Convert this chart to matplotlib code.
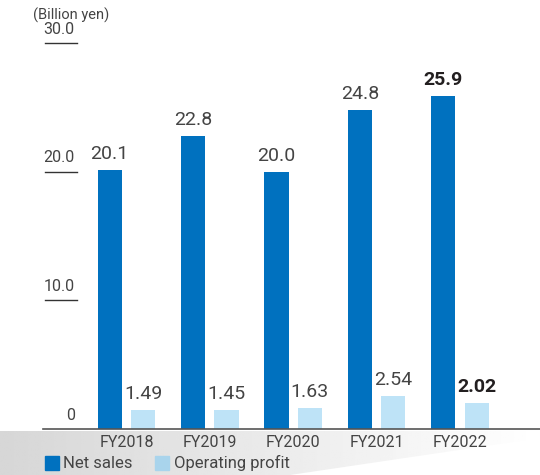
import numpy as np
import matplotlib
matplotlib.use('Agg')
import matplotlib.pyplot as plt
from matplotlib.patches import Polygon
import matplotlib.transforms as mtransforms

years = ['FY2018', 'FY2019', 'FY2020', 'FY2021', 'FY2022']
net_sales = [20.1, 22.8, 20.0, 24.8, 25.9]
op_profit = [1.49, 1.45, 1.63, 2.54, 2.02]
net_labels = ['20.1', '22.8', '20.0', '24.8', '25.9']
op_labels = ['1.49', '1.45', '1.63', '2.54', '2.02']
yticks = [0, 10, 20, 30]
ytick_labels = ['0', '10.0', '20.0', '30.0']

dark_blue = '#0071bf'
light_blue = '#bee3f7'
txt = '#444444'

plt.rcParams['font.family'] = ['Roboto', 'DejaVu Sans']

fig = plt.figure(figsize=(5.4, 4.75), dpi=100)

# page-curl shadow at the bottom
bg = fig.add_axes([0, 0, 1, 1], zorder=0)
bg.set_xlim(0, 540)
bg.set_ylim(475, 0)
bg.axis('off')
grad = np.linspace(0.84, 1.0, 256).reshape(1, -1)
im = bg.imshow(grad, cmap='gray', vmin=0, vmax=1, extent=[0, 540, 475, 430], aspect='auto')
poly = Polygon([(0, 431), (540, 431), (540, 438), (290, 475), (0, 475)], closed=True,
               transform=bg.transData, facecolor='none', edgecolor='none')
bg.add_patch(poly)
im.set_clip_path(poly)

ax = fig.add_axes([43 / 540, 1 - 429 / 475, 497 / 540, (429 - 43) / 475], zorder=1)
ax.patch.set_alpha(0)

x = np.arange(len(years))
w = 0.29
ax.bar(x - 0.2, net_sales, w, color=dark_blue, label='Net sales')
ax.bar(x + 0.2, op_profit, w, color=light_blue, label='Operating profit')

for i in range(len(years)):
    last = i == len(years) - 1
    kw = dict(fontweight='bold', color='#231f20') if last else dict(color=txt)
    ax.text(x[i] - 0.2, net_sales[i] + 0.55, net_labels[i], ha='center', va='bottom',
            fontsize=14, **kw)
    ax.text(x[i] + 0.2, op_profit[i] + 0.55, op_labels[i], ha='center', va='bottom',
            fontsize=14, **kw)

ax.set_xlim(-1.0, 4.96)
ax.set_ylim(0, 30)
for s in ['left', 'right', 'top']:
    ax.spines[s].set_visible(False)
ax.spines['bottom'].set_color('#555555')
ax.spines['bottom'].set_linewidth(1.2)
ax.set_yticks([])
ax.set_xticks(x)
ax.set_xticklabels(years, fontsize=11.5, color=txt)
ax.tick_params(axis='x', length=0, pad=4)

# y tick labels sitting on short underlines
tr = mtransforms.blended_transform_factory(ax.transAxes, ax.transData)
for v, lab in zip(yticks, ytick_labels):
    ax.text(0.064, v + 0.5, lab, transform=tr, ha='right', va='bottom', fontsize=11.5, color=txt)
    if v > 0:
        ax.plot([0.004, 0.068], [v, v], transform=tr, color='#333333', lw=1.0, clip_on=False)

fig.text(33 / 540, 1 - 15 / 475, '(Billion yen)', fontsize=10.5, color=txt, va='center', ha='left')

# legend
fig.patches.append(plt.Rectangle((45 / 540, 1 - 470 / 475), 14 / 540, 14 / 475,
                                 transform=fig.transFigure, color=dark_blue))
fig.text(63 / 540, 1 - 463 / 475, 'Net sales', fontsize=12, color=txt, va='center')
fig.patches.append(plt.Rectangle((155 / 540, 1 - 470 / 475), 14 / 540, 14 / 475,
                                 transform=fig.transFigure, color='#a9d4ec'))
fig.text(174 / 540, 1 - 463 / 475, 'Operating profit', fontsize=12, color=txt, va='center')

fig.savefig('out.png', dpi=100)
